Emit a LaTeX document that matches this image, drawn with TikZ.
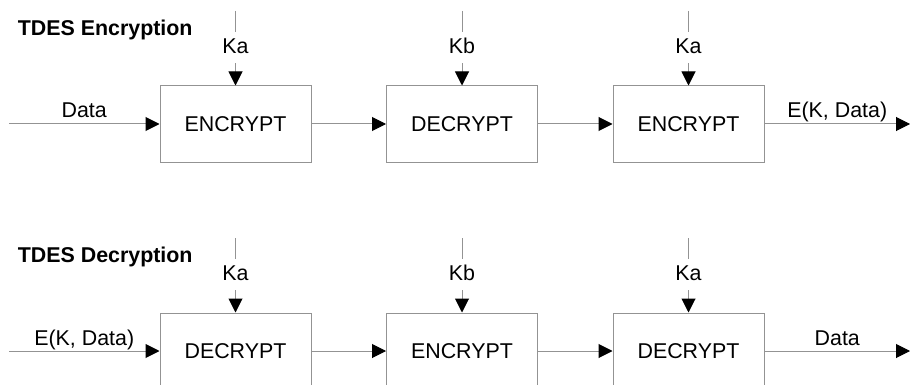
\documentclass[tikz,border=0pt]{standalone}
\usepackage{fontspec}
\setmainfont{Liberation Sans}
\usetikzlibrary{arrows.meta}
\begin{document}
\begin{tikzpicture}[x=1pt,y=-1pt,
  txt/.style={font=\fontsize{21.4}{24}\selectfont},
  blk/.style={txt, draw=gray!85, line width=1pt, minimum width=151pt, minimum height=76pt, inner sep=0pt},
  wire/.style={draw=gray!85, line width=1pt},
  conn/.style={wire, -{Triangle[length=14pt,width=14pt,color=black]}},
  keylbl/.style={txt, anchor=base, inner xsep=0pt, inner ysep=5.7pt, text height=15.3pt, text depth=4pt},
  lnlbl/.style={txt, anchor=base, inner sep=0pt, yshift=6pt},
  ttl/.style={font=\bfseries\fontsize{21.4}{24}\selectfont, anchor=base west, inner sep=0pt}]
\path[use as bounding box, clip] (0,0) rectangle (910,385);
\fill[white] (0,0) rectangle (910,385);

% ---------- Encryption ----------
\node[ttl] (t1) at (17.6,35.7) {TDES Encryption};
\node[blk] (e1) at (235.5,124) {ENCRYPT};
\node[blk] (e2) at (462,124) {DECRYPT};
\node[blk] (e3) at (688.5,124) {ENCRYPT};
\coordinate (in1) at (9,124);
\coordinate (out1) at (910,124);
\coordinate (k1t) at (235.5,11);
\coordinate (k2t) at (462,11);
\coordinate (k3t) at (688.5,11);
\node[keylbl] (k1) at (235.5,53.3) {Ka};
\node[keylbl] (k2) at (462,53.3) {Kb};
\node[keylbl] (k3) at (688.5,53.3) {Ka};
\draw[wire] (k1t) -- (k1.north);
\draw[wire] (k2t) -- (k2.north);
\draw[wire] (k3t) -- (k3.north);
\draw[conn] (k1.south) -- (e1.north);
\draw[conn] (k2.south) -- (e2.north);
\draw[conn] (k3.south) -- (e3.north);
\draw[conn] (in1) -- node[lnlbl] {Data} (e1.west);
\draw[conn] (e1.east) -- (e2.west);
\draw[conn] (e2.east) -- (e3.west);
\draw[conn] (e3.east) -- node[lnlbl] {E(K, Data)} (out1);

% ---------- Decryption ----------
\node[ttl] (t2) at (17.6,262.7) {TDES Decryption};
\node[blk] (d1) at (235.5,351) {DECRYPT};
\node[blk] (d2) at (462,351) {ENCRYPT};
\node[blk] (d3) at (688.5,351) {DECRYPT};
\coordinate (in2) at (9,351);
\coordinate (out2) at (910,351);
\coordinate (j1t) at (235.5,238);
\coordinate (j2t) at (462,238);
\coordinate (j3t) at (688.5,238);
\node[keylbl] (j1) at (235.5,280.3) {Ka};
\node[keylbl] (j2) at (462,280.3) {Kb};
\node[keylbl] (j3) at (688.5,280.3) {Ka};
\draw[wire] (j1t) -- (j1.north);
\draw[wire] (j2t) -- (j2.north);
\draw[wire] (j3t) -- (j3.north);
\draw[conn] (j1.south) -- (d1.north);
\draw[conn] (j2.south) -- (d2.north);
\draw[conn] (j3.south) -- (d3.north);
\draw[conn] (in2) -- node[lnlbl] {E(K, Data)} (d1.west);
\draw[conn] (d1.east) -- (d2.west);
\draw[conn] (d2.east) -- (d3.west);
\draw[conn] (d3.east) -- node[lnlbl] {Data} (out2);
\end{tikzpicture}
\end{document}
